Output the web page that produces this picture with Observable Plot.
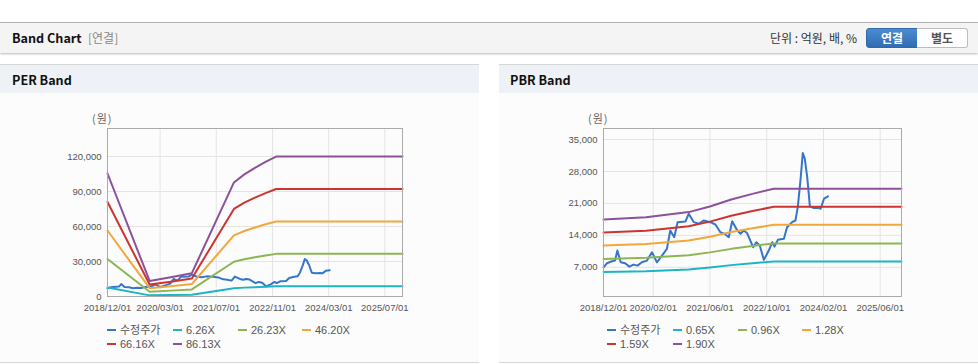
<!DOCTYPE html>
<html><head><meta charset="utf-8">
<script src="https://cdn.jsdelivr.net/npm/d3@7"></script>
<script src="https://cdn.jsdelivr.net/npm/@observablehq/plot@0.6"></script>
<style>
body{margin:0;width:978px;height:364px;background:#fff;position:relative;overflow:hidden;font-family:"Noto Sans CJK KR","Noto Sans",sans-serif;}
.abs{position:absolute;}
.topbar{left:0;top:22px;width:978px;height:30px;background:#f4f4f4;border-top:1px solid #b4b4b4;box-shadow:0 1px 2px rgba(0,0,0,0.28);}
.ttl{font-weight:bold;font-size:12.6px;color:#111;white-space:nowrap;line-height:16px;}
.sub{font-size:12px;color:#888;white-space:nowrap;line-height:16px;}
.unit{font-size:12px;color:#333;white-space:nowrap;line-height:16px;}
.btn{top:28px;height:18px;width:50px;font-size:12px;font-weight:bold;text-align:center;line-height:18px;box-sizing:content-box;}
.panel{top:64px;height:297px;border-top:1px solid #d6d6d6;border-bottom:1px solid #d6d6d6;background:#fcfcfc;}
.phead{left:0;top:0;height:28px;background:#eef2f7;}
.unitlbl{font-size:11px;color:#666;line-height:12px;white-space:nowrap;letter-spacing:1px;}
.leg{font-size:11px;color:#555;line-height:12px;white-space:nowrap;font-family:"Liberation Sans","Noto Sans CJK KR",sans-serif;}
.sw{display:inline-block;width:9px;height:2px;vertical-align:middle;margin-right:4px;position:relative;top:-1px;}
</style></head>
<body>
<div class="abs topbar"></div>
<div class="abs ttl" style="left:12px;top:30px;">Band Chart</div>
<div class="abs sub" style="left:88px;top:30px;">[연결]</div>
<div class="abs unit" style="left:770px;top:30px;">단위 : 억원, 배, %</div>
<div class="abs btn" style="left:866px;background:linear-gradient(#4b8bd2,#2f6cb3);color:#fff;border:1px solid #2f68ab;border-radius:3px 0 0 3px;">연결</div>
<div class="abs btn" style="left:917px;background:#fff;color:#555;border:1px solid #bdbdbd;border-left:none;border-radius:0 3px 3px 0;">별도</div>

<div class="abs panel" id="pL" style="left:0;width:479px;"><div class="abs phead" style="width:479px;"></div></div>
<div class="abs panel" id="pR" style="left:499px;width:479px;"><div class="abs phead" style="width:479px;"></div></div>
<div class="abs ttl" style="left:12px;top:72px;">PER Band</div>
<div class="abs ttl" style="left:510px;top:72px;">PBR Band</div>
<div class="abs unitlbl" style="left:92px;top:112px;">(원)</div>
<div class="abs unitlbl" style="left:588px;top:112px;">(원)</div>
<div class="abs" id="chartL" style="left:0;top:93px;"></div>
<div class="abs" id="chartR" style="left:499px;top:93px;"></div>
<div id="legends"></div>
<script>
// ---- shared price series (수정주가) ----
const priceDates = ["2018-12-01","2018-12-30","2019-02-12","2019-03-10","2019-03-30","2019-04-28","2019-06-05","2019-07-11","2019-08-15","2019-09-19","2019-10-26","2019-12-09","2020-01-21","2020-03-03","2020-04-16","2020-05-28","2020-06-26","2020-07-30","2020-08-28","2020-11-03","2020-12-01","2021-01-14","2021-02-25","2021-04-08","2021-06-05","2021-07-18","2021-08-30","2021-10-04","2021-11-10","2021-12-09","2022-01-22","2022-02-19","2022-03-18","2022-04-16","2022-06-07","2022-07-04","2022-08-03","2022-09-07","2022-10-19","2022-11-18","2022-12-07","2023-01-05","2023-02-26","2023-03-25","2023-05-07","2023-06-05","2023-06-25","2023-07-18","2023-08-07","2023-08-24","2023-09-14","2023-10-07","2023-11-10","2023-12-23","2024-01-07","2024-02-05","2024-03-10"];
const priceValues = [7000,7880,8320,8470,10670,8100,7880,7150,7590,7370,8100,8470,10300,8100,9570,11040,15070,13600,16890,17040,18730,16890,16530,17260,16890,16380,14690,14340,13600,17110,15070,14340,15070,14500,11400,12500,11770,8620,10670,12500,11540,13020,13240,15790,16890,17260,20190,26050,32050,30820,26780,20340,19970,20050,19830,22030,22540];

// ---- PER band ----
const perDates = ["2018-12-01","2019-12-01","2020-06-01","2020-12-01","2021-12-01","2022-03-01","2022-06-01","2022-09-01","2022-12-01","2025-12-01"];
const per626  = [7662,970,1202,1452,7105,7606,8013,8388,8720,8720];
const per2623 = [32106,4066,5036,6085,29771,31869,33574,35148,36538,36538];
const per4620 = [56549,7161,8870,10718,52437,56133,59136,61908,64357,64357];
const per6616 = [80980,10255,12703,15349,75092,80384,84685,88654,92161,92161];
const per8613 = [105423,13350,16537,19982,97758,104648,110246,115414,119979,119979];
const perLabels = ["수정주가","6.26X","26.23X","46.20X","66.16X","86.13X"];
const perXTicks = ["2018-12-01","2020-03-01","2021-07-01","2022-11-01","2024-03-01","2025-07-01"];
const perYTicks = [0,30000,60000,90000,120000];

// ---- PBR band ----
const pbrDates = ["2018-12-01","2019-12-01","2020-12-01","2021-06-01","2021-12-01","2022-06-01","2022-12-01","2025-12-01"];
const pbr065 = [5987,6143,6533,6955,7475,7898,8288,8288];
const pbr096 = [8842,9072,9648,10272,11040,11664,12240,12240];
const pbr128 = [11789,12096,12864,13696,14720,15552,16320,16320];
const pbr159 = [14644,15026,15980,17013,18285,19319,20273,20273];
const pbr190 = [17499,17955,19095,20330,21850,23085,24225,24225];
const pbrLabels = ["수정주가","0.65X","0.96X","1.28X","1.59X","1.90X"];
const pbrXTicks = ["2018-12-01","2020-02-01","2021-06-01","2022-10-01","2024-02-01","2025-06-01"];
const pbrYTicks = [7000,14000,21000,28000,35000];

const colors = ["#3576c9","#1db4c6","#8db552","#f2a73c","#cc3431","#8d509b"];
const xDomain = [new Date("2018-12-01"), new Date("2025-12-01")];

function rows(dates, vals){ return dates.map((d,i)=>({date:new Date(d), v:vals[i]})); }

function makeChart(bandDates, bands, xTicks, yTicks, yDomain, mLeft){
  const xt = xTicks.map(d=>new Date(d));
  const marks = [
    Plot.gridX(xt, {stroke:"#e4e4e4", strokeOpacity:1}),
    Plot.gridY(yTicks, {stroke:"#e4e4e4", strokeOpacity:1}),
    Plot.line(rows(priceDates, priceValues), {x:"date", y:"v", stroke:colors[0], strokeWidth:2}),
  ];
  bands.forEach((b,i)=>{
    marks.push(Plot.line(rows(bandDates, b), {x:"date", y:"v", stroke:colors[i+1], strokeWidth:2}));
  });
  marks.push(Plot.frame({stroke:"#aaaaaa"}));
  return Plot.plot({
    width:479, height:225,
    marginLeft:mLeft, marginRight:77, marginTop:35, marginBottom:22,
    style:{fontFamily:"'Liberation Sans', Arial, sans-serif", fontSize:"9.5px", color:"#555", background:"transparent", overflow:"visible"},
    x:{type:"utc", domain:xDomain, ticks:xt, tickFormat:d3.utcFormat("%Y/%m/%d"), tickSize:0, tickPadding:8, label:null},
    y:{domain:yDomain, ticks:yTicks, tickFormat:d3.format(","), tickSize:0, tickPadding:6, label:null},
    marks
  });
}

document.getElementById("chartL").appendChild(
  makeChart(perDates, [per626,per2623,per4620,per6616,per8613], perXTicks, perYTicks, [0,144000], 107));
document.getElementById("chartR").appendChild(
  makeChart(pbrDates, [pbr065,pbr096,pbr128,pbr159,pbr190], pbrXTicks, pbrYTicks, [600,37420], 104));

function legend(labels, x0){
  const cols = [0,66,131,195];
  const host = document.getElementById("legends");
  labels.forEach((t,i)=>{
    const r = i<4?0:1, c = i<4?i:i-4;
    const el = document.createElement("div");
    el.className = "abs leg";
    el.style.left = (x0+cols[c])+"px";
    el.style.top = (r===0?324:338)+"px";
    el.innerHTML = '<span class="sw" style="background:'+colors[i]+'"></span>'+t;
    host.appendChild(el);
  });
}
legend(perLabels, 107);
legend(pbrLabels, 607);
</script>
</body></html>
